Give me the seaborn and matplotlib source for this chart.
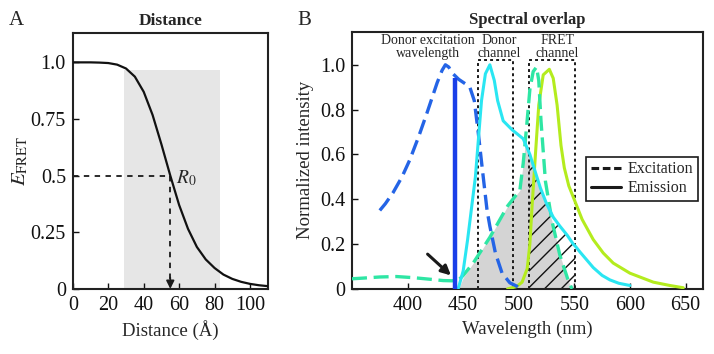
import matplotlib
matplotlib.use("Agg")
import matplotlib.pyplot as plt
import seaborn as sns
import numpy as np
from matplotlib.lines import Line2D

# === Panel A: FRET efficiency vs distance ===
distance = [0, 5, 10, 15, 20, 25, 30, 35, 40, 45, 50, 55, 60, 65, 70,
            75, 80, 85, 90, 95, 100, 105, 110]
efret = [1.0, 1.0, 1.0, 0.999, 0.997, 0.99, 0.973, 0.937, 0.87, 0.768, 0.638,
         0.5, 0.37, 0.265, 0.185, 0.13, 0.092, 0.063, 0.044, 0.031, 0.022,
         0.016, 0.012]
R0 = 55
shade_span = (29, 83)
shade_top = 0.965

# === Panel B: spectra ===
don_ex_wl = [375, 380, 387, 395, 402, 410, 417.5, 426.6, 431, 434, 437, 440,
             446, 452, 456, 460, 463.5, 467, 471.5, 474, 479, 485, 492, 499, 502]
don_ex = [0.35, 0.38, 0.43, 0.50, 0.576, 0.68, 0.786, 0.92, 0.975, 1.0, 0.99,
          0.964, 0.935, 0.915, 0.90, 0.84, 0.70, 0.545, 0.35, 0.28, 0.16,
          0.07, 0.027, 0.01, 0.0]

don_em_wl = [445.5, 450, 454, 458, 461, 466.5, 470, 474, 478, 481, 486, 494,
             504, 510, 515, 519.5, 525, 531, 537, 543.5, 549, 551, 555, 561,
             567, 575, 582, 590, 600]
don_em = [0.0, 0.08, 0.22, 0.38, 0.50, 0.84, 0.96, 1.0, 0.93, 0.84, 0.75,
          0.71, 0.67, 0.60, 0.52, 0.45, 0.38, 0.32, 0.28, 0.24, 0.20, 0.19,
          0.165, 0.13, 0.095, 0.06, 0.04, 0.025, 0.015]

acc_ex_wl = [350, 360, 375, 390, 405, 420, 432, 440, 446, 450, 459, 474, 490,
             501, 504, 507, 510, 513, 516, 518, 520, 524, 530, 537, 545, 548]
acc_ex = [0.045, 0.048, 0.053, 0.055, 0.05, 0.043, 0.037, 0.036, 0.04, 0.06,
          0.115, 0.23, 0.37, 0.44, 0.56, 0.72, 0.89, 0.97, 0.99, 0.93, 0.75,
          0.48, 0.30, 0.15, 0.03, 0.0]

acc_em_wl = [490, 498, 503, 507.6, 510, 512, 515, 518, 522, 527.5, 531, 534.5,
             538, 541, 545, 549, 557, 567, 576, 585, 600, 621, 636, 648]
acc_em = [0.0, 0.01, 0.03, 0.09, 0.2, 0.37, 0.6, 0.82, 0.955, 0.98, 0.94,
          0.82, 0.64, 0.54, 0.46, 0.41, 0.31, 0.22, 0.16, 0.115, 0.07, 0.03,
          0.015, 0.005]

# spectral overlap (grey) boundary
overlap_wl = [446, 450, 459, 474, 490, 501, 504, 506, 510, 515, 519.5, 524,
              527, 530, 537, 545, 548]
overlap = [0.0, 0.05, 0.115, 0.23, 0.37, 0.44, 0.56, 0.66, 0.60, 0.52, 0.45,
           0.39, 0.35, 0.30, 0.15, 0.03, 0.0]

laser_wl = 443
laser_top = 0.94
donor_channel = (463.5, 495)
fret_channel = (509.5, 551)
box_top = 1.02

c_don_ex = "#2464e6"
c_laser = "#1a3fe8"
c_don_em = "#2ae6f2"
c_acc_ex = "#2ee6a4"
c_acc_em = "#b4ec1e"

sns.set_theme(style="ticks")
plt.rcParams["font.family"] = ["Liberation Serif", "DejaVu Serif"]
plt.rcParams["mathtext.fontset"] = "stix"
plt.rcParams["hatch.linewidth"] = 1.0
plt.rcParams["axes.edgecolor"] = "#222222"
plt.rcParams["axes.linewidth"] = 1.5

fig = plt.figure(figsize=(7.14, 3.54), dpi=100)
axA = fig.add_axes([0.102, 0.184, 0.273, 0.723])
axB = fig.add_axes([0.493, 0.184, 0.492, 0.726])

# ---- Panel A ----
axA.fill_between(list(shade_span), 0, shade_top, color="#e6e6e6", lw=0, zorder=0)
sns.lineplot(x=distance, y=efret, ax=axA, color="#111111", lw=1.6, zorder=3)
axA.plot([0, R0], [0.5, 0.5], color="k", lw=1.3, ls=(0, (3, 3)), zorder=2)
axA.plot([R0, R0], [0.5, 0.04], color="k", lw=1.3, ls=(0, (3, 3)), zorder=2)
axA.annotate("", xy=(R0, 0.0), xytext=(R0, 0.05),
             arrowprops=dict(arrowstyle="-|>", color="k", lw=1.2,
                             mutation_scale=12, shrinkA=0, shrinkB=0))
axA.text(R0 + 3, 0.49, r"$R_0$", fontsize=14, va="center", ha="left")
axA.set_xlim(0, 110)
axA.set_ylim(0, 1.13)
axA.set_xticks([0, 20, 40, 60, 80, 100])
axA.set_yticks([0, 0.25, 0.5, 0.75, 1.0])
axA.set_yticklabels(["0", "0.25", "0.5", "0.75", "1.0"])
axA.set_xlabel("Distance (Å)", fontsize=13.5)
axA.set_ylabel(r"$E_{\mathrm{FRET}}$", fontsize=15, labelpad=0)
axA.set_title("Distance", fontsize=12.5, fontweight="bold", pad=6)

# ---- Panel B ----
axB.fill_between(overlap_wl, 0, overlap, color="#d4d4d4", lw=0, zorder=1)
hatch_wl = [w for w in don_em_wl if fret_channel[0] <= w <= fret_channel[1]]
hatch_y = [v for w, v in zip(don_em_wl, don_em)
           if fret_channel[0] <= w <= fret_channel[1]]
hatch_wl = [fret_channel[0]] + hatch_wl
hatch_y = [hatch_y[0]] + hatch_y
axB.fill_between(hatch_wl, 0, hatch_y, facecolor="none", edgecolor="#111111",
                 hatch="//", lw=0, zorder=2)

# channel boxes
for lo, hi in [donor_channel, fret_channel]:
    axB.plot([lo, lo, hi, hi], [0, box_top, box_top, 0], color="k", lw=1.4,
             ls=(0, (1.5, 1.6)), zorder=2.5)

dash = (0, (4.5, 2.0))
sns.lineplot(x=acc_em_wl, y=acc_em, ax=axB, color=c_acc_em, lw=2.2, zorder=3)
sns.lineplot(x=don_em_wl, y=don_em, ax=axB, color=c_don_em, lw=2.2, zorder=4)
sns.lineplot(x=acc_ex_wl, y=acc_ex, ax=axB, color=c_acc_ex, lw=2.4,
             linestyle=dash, zorder=3.5)
sns.lineplot(x=don_ex_wl, y=don_ex, ax=axB, color=c_don_ex, lw=2.4,
             linestyle=dash, zorder=3.5)
axB.plot([laser_wl, laser_wl], [0, laser_top], color=c_laser, lw=3.2, zorder=5,
         solid_capstyle="butt")

axB.annotate("", xy=(439, 0.06), xytext=(418, 0.155),
             arrowprops=dict(arrowstyle="-|>", color="k", lw=2.2,
                             mutation_scale=14, shrinkA=0, shrinkB=0))

for label, xpos in [("Donor excitation\nwavelength", 418),
                    ("Donor\nchannel", 482), ("FRET\nchannel", 534.5)]:
    axB.text(xpos, 1.035, label, fontsize=10, ha="center", va="baseline",
             linespacing=0.95)

handles = [Line2D([], [], color="k", lw=2.2, ls=(0, (2.5, 1.2))),
           Line2D([], [], color="k", lw=2.2)]
leg = axB.legend(handles, ["Excitation", "Emission"], loc="upper right",
                 bbox_to_anchor=(0.985, 0.515), fontsize=11.5, frameon=True,
                 fancybox=False, framealpha=1, edgecolor="k",
                 handlelength=1.9, handletextpad=0.4, borderpad=0.3,
                 labelspacing=0.2, borderaxespad=0)
leg.get_frame().set_linewidth(1.2)

axB.set_xlim(350, 666)
axB.set_ylim(0, 1.147)
axB.set_xticks([400, 450, 500, 550, 600, 650])
axB.set_yticks([0, 0.2, 0.4, 0.6, 0.8, 1.0])
axB.set_yticklabels(["0", "0.2", "0.4", "0.6", "0.8", "1.0"])
axB.set_xlabel("Wavelength (nm)", fontsize=13.5)
axB.set_ylabel("Normalized intensity", fontsize=13.5)
axB.set_title("Spectral overlap", fontsize=12, fontweight="bold", pad=6)

for ax in (axA, axB):
    ax.tick_params(direction="in", length=4, width=1, labelsize=14.5,
                   colors="#111111", pad=5)

fig.text(0.012, 0.93, "A", fontsize=15)
fig.text(0.416, 0.93, "B", fontsize=15)

fig.savefig("out.png", dpi=100)
